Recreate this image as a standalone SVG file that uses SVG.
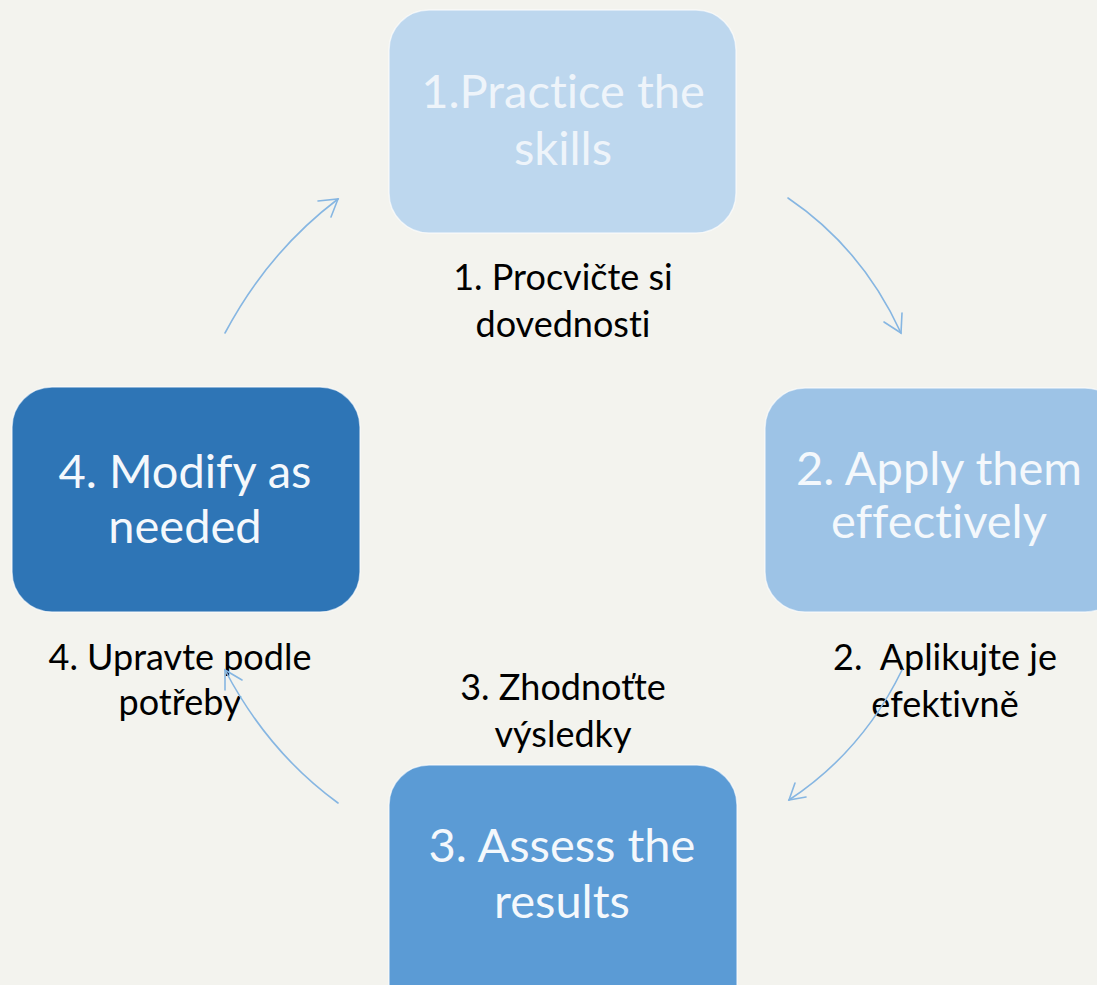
<svg xmlns="http://www.w3.org/2000/svg" width="1097" height="985" viewBox="0 0 1097 985">
<style>
text{font-variant-ligatures:none;font-feature-settings:"liga" 0,"clig" 0,"dlig" 0}
.box{stroke:#ffffff;stroke-opacity:0.6;stroke-width:1.5}
.bt{font-family:Lato,"Open Sans",sans-serif;font-size:47px;fill:#F4F8FC;text-anchor:middle}
.lb{font-family:Lato,"Open Sans",sans-serif;font-size:36px;fill:#000;text-anchor:middle}
.arr{fill:none;stroke:#86B6E2;stroke-width:1.6;stroke-linecap:round}
</style>
<rect width="1097" height="985" fill="#F3F3EE"/>
<g id="node1">
<rect class="box" x="389" y="10" width="347" height="223" rx="40" fill="#BDD7EE"/>
<text class="bt" x="563" y="108" style="fill:#EEF4FA">1.Practice the</text>
<text class="bt" x="563" y="165" style="fill:#EEF4FA">skills</text>
</g>
<g id="node2">
<rect class="box" x="765" y="388" width="360" height="224" rx="40" fill="#9DC3E6"/>
<text class="bt" x="939" y="485">2. Apply them</text>
<text class="bt" x="939" y="538">effectively</text>
</g>
<g id="node3">
<rect class="box" x="389" y="765" width="348" height="260" rx="40" fill="#5B9BD5"/>
<text class="bt" x="562" y="862">3. Assess the</text>
<text class="bt" x="562" y="918">results</text>
</g>
<g id="node4">
<rect class="box" x="12" y="387" width="348" height="225" rx="40" fill="#2E75B6"/>
<text class="bt" x="185" y="488">4. Modify as</text>
<text class="bt" x="185" y="543">needed</text>
</g>
<g id="labels">
<text class="lb" x="563" y="290">1. Procvičte si</text>
<text class="lb" x="563" y="337">dovednosti</text>
<text class="lb" x="945" y="670">2.&#160; Aplikujte je</text>
<text class="lb" x="945" y="717">efektivně</text>
<text class="lb" x="563" y="700">3. Zhodnoťte</text>
<text class="lb" x="563" y="747">výsledky</text>
<text class="lb" x="180" y="670">4. Upravte podle</text>
<text class="lb" x="180" y="715">potřeby</text>
</g>
<g id="connectors">
<path class="arr" d="M225,333 Q268,252 338,199"/>
<path class="arr" d="M318,201 L338,199 L331,217"/>
<path class="arr" d="M788,198 Q862,248 901,333"/>
<path class="arr" d="M884,322 L901,333 L902,313"/>
<path class="arr" d="M902,670 Q862,752 789,800"/>
<path class="arr" d="M795,783 L789,800 L806,797"/>
<path class="arr" d="M338,803 Q268,752 225,670"/>
<path class="arr" d="M225,690 L225,670 L242,680"/>
</g>
</svg>
